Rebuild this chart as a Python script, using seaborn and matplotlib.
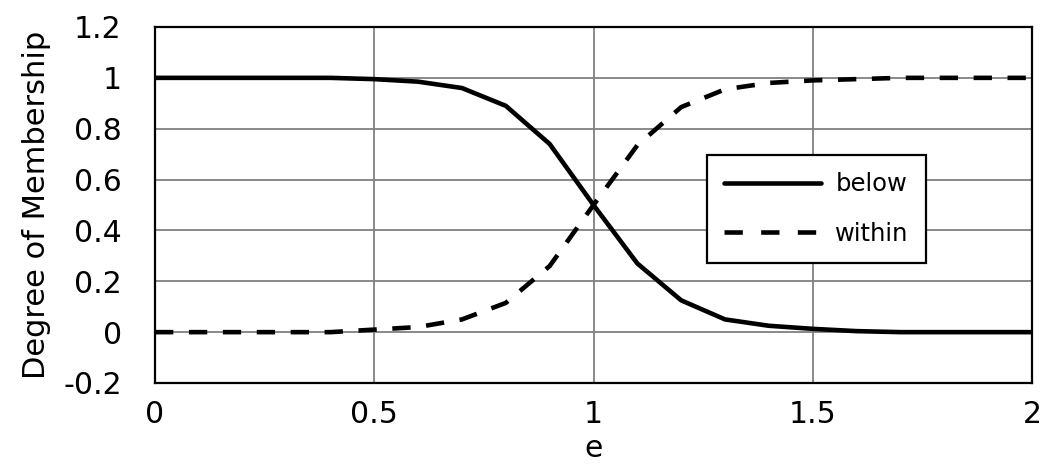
import numpy as np
import pandas as pd
import matplotlib
matplotlib.use("Agg")
import matplotlib.pyplot as plt
import seaborn as sns

e_values = [0.0, 0.1, 0.2, 0.3, 0.4, 0.5, 0.6, 0.7, 0.8, 0.9, 1.0,
            1.1, 1.2, 1.3, 1.4, 1.5, 1.6, 1.7, 1.8, 1.9, 2.0]
below = [1, 1, 1, 1, 1, 0.995, 0.985, 0.96, 0.89, 0.74, 0.5,
         0.27, 0.125, 0.05, 0.025, 0.013, 0.004, 0, 0, 0, 0]
within = [0, 0, 0, 0, 0, 0.01, 0.02, 0.05, 0.115, 0.26, 0.5,
          0.735, 0.885, 0.955, 0.98, 0.99, 0.995, 1, 1, 1, 1]
x_ticks = [0, 0.5, 1, 1.5, 2]
x_tick_labels = ["0", "0.5", "1", "1.5", "2"]
y_ticks = [-0.2, 0, 0.2, 0.4, 0.6, 0.8, 1.0, 1.2]
y_tick_labels = ["-0.2", "0", "0.2", "0.4", "0.6", "0.8", "1", "1.2"]

sns.set_theme(style="white")
plt.rcParams['font.family'] = ['DejaVu Sans']
plt.rcParams['text.color'] = 'black'

fig = plt.figure(figsize=(10.47, 4.68), dpi=100)
ax = fig.add_axes([155/1047, 1 - 383/468, (1032-155)/1047, (383-27)/468])

df_below = pd.DataFrame({"e": e_values, "v": below})
df_within = pd.DataFrame({"e": e_values, "v": within})
sns.lineplot(data=df_below, x="e", y="v", ax=ax, color="black", lw=3.3,
             label="below")
sns.lineplot(data=df_within, x="e", y="v", ax=ax, color="black", lw=3.3,
             label="within", dashes=False)
ax.lines[1].set_dashes([4.0, 3.4])

ax.set_xlim(0, 2)
ax.set_ylim(-0.2, 1.2)
ax.set_xticks(x_ticks)
ax.set_xticklabels(x_tick_labels)
ax.set_yticks(y_ticks)
ax.set_yticklabels(y_tick_labels)
ax.grid(True, color="#808080", lw=1.3)
ax.set_axisbelow(True)
for s in ax.spines.values():
    s.set_color("black")
    s.set_linewidth(1.6)
ax.tick_params(axis="both", length=0, labelsize=21.5, colors="black")
ax.tick_params(axis="y", pad=24)
ax.tick_params(axis="x", pad=12)
ax.set_xlabel("e", fontsize=21.5, color="black", labelpad=4)
ax.set_ylabel("Degree of Membership", fontsize=22, color="black", labelpad=9)

leg = ax.legend(loc="upper left", bbox_to_anchor=(0.629, 0.640), fontsize=17.5,
                frameon=True, fancybox=False, framealpha=1, edgecolor="black",
                borderpad=0.7, labelspacing=1.05, handlelength=4.0,
                handletextpad=0.6, borderaxespad=0)
leg.get_frame().set_linewidth(1.6)
for t in leg.get_texts():
    t.set_color("black")
leg.legend_handles[1].set_dashes([4.0, 4.0])

fig.savefig("out.png", dpi=100, facecolor="white")
